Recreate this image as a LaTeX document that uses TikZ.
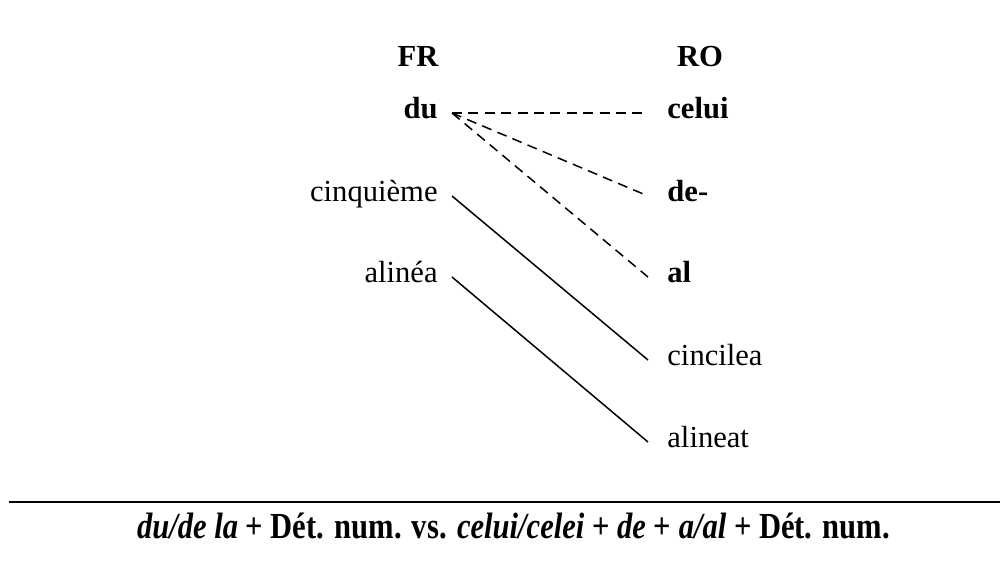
\documentclass[tikz,border=0pt]{standalone}
\usepackage{fontspec}
\setmainfont{Liberation Serif}
\begin{document}
\begin{tikzpicture}[x=0.5pt,y=-0.5pt,
  every node/.style={font=\fontsize{15.3}{18}\selectfont, text height=1.5ex, text depth=0.25ex},
  lword/.style={anchor=east, inner xsep=7pt, inner ysep=0pt},
  rword/.style={anchor=west, inner xsep=9.5pt, inner ysep=0pt},
  bword/.style={font=\fontsize{15.3}{18}\selectfont\bfseries},
  dlink/.style={line width=0.75pt, dash pattern=on 5pt off 3.2pt},
  slink/.style={line width=0.75pt}]
\useasboundingbox[fill=white] (0,0) rectangle (1000,580);
% headers
\node[bword] (fr) at (418,61) {FR};
\node[bword] (ro) at (700,61) {RO};
% left column
\node[lword,bword] (du) at (452,113) {du};
\node[lword] (cinq) at (452,196) {cinquième};
\node[lword] (alinea) at (452,277) {alinéa};
% right column
\node[rword,bword] (celui) at (648,113) {celui};
\node[rword,bword] (de) at (648,196) {de-};
\node[rword,bword] (al) at (648,277) {al};
\node[rword] (cincilea) at (648,360) {cincilea};
\node[rword] (alineat) at (648,442) {alineat};
% connectors
\draw[dlink] (du.east) -- (celui.west);
\draw[dlink] (du.east) -- (de.west);
\draw[dlink] (du.east) -- (al.west);
\draw[slink] (cinq.east) -- (cincilea.west);
\draw[slink] (alinea.east) -- (alineat.west);
% rule and caption
\coordinate (rl) at (9,502);
\coordinate (rr) at (1000,502);
\draw[line width=1pt] (rl) -- (rr);
\node[inner sep=0pt] (cap) at (513.5,533) {\resizebox{376.5pt}{1.2\height}{\bfseries\itshape du/de la \upshape + Dét. num. vs. \itshape celui/celei \upshape + \itshape de \upshape + \itshape a/al \upshape + Dét. num.}};
\end{tikzpicture}
\end{document}
